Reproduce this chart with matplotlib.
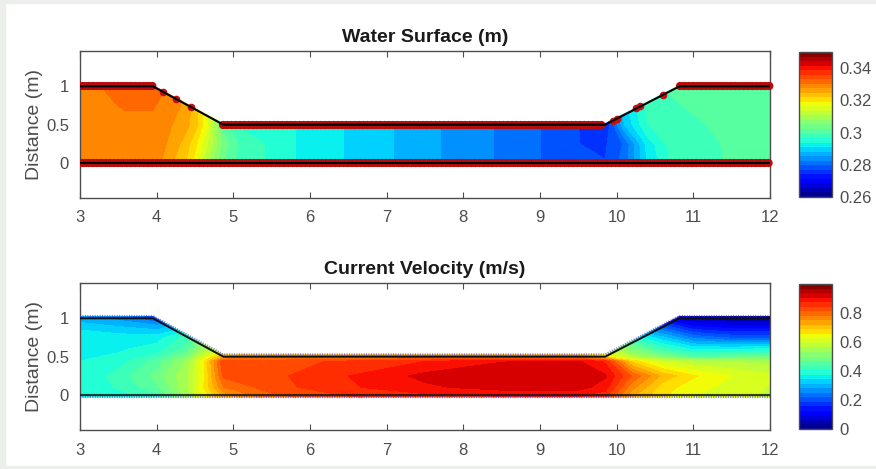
import numpy as np
import matplotlib
matplotlib.use('Agg')
import matplotlib.pyplot as plt
from matplotlib.cm import ScalarMappable
from matplotlib.colors import ListedColormap, Normalize
from matplotlib.patches import Polygon, Rectangle

plt.rcParams['font.family'] = ['Liberation Sans', 'DejaVu Sans']

# channel outline
channel_x = [3, 3.95, 4.87, 9.85, 10.82, 12]
channel_y = [1, 1, 0.5, 0.5, 1, 1]

# water surface (m), rows go with ws_y, columns with ws_x
ws_x = [3, 3.3, 3.6, 3.95, 4.05, 4.2, 4.37, 4.5, 4.65, 4.87, 5.1, 5.4, 5.8, 6.45, 7.1, 7.7, 8.4, 9, 9.5, 9.85, 10.1, 10.4, 10.7, 11.4, 12.04]
ws_y = [-0.02, 0.25, 0.5, 0.75, 1.02]
ws_0 = [.329, .329, .329, .329, .3275, .3247, .3219, .3176, .310, .302, .298, .2966, .2938, .2909, .2881, .2853, .2825, .2797, .2769, .277, .281, .291, .2966, .2994, .3005]
ws_1 = [.329, .329, .329, .329, .3285, .3265, .3235, .320, .314, .304, .2985, .2966, .2938, .2909, .2881, .2853, .2825, .2797, .2769, .2765, .280, .292, .2975, .2995, .3005]
ws_2 = [.329, .329, .329, .329, .329, .3275, .326, .323, .317, .301, .296, .2945, .2938, .2909, .2881, .2853, .2825, .2797, .2769, .2735, .288, .2965, .2985, .2998, .3005]
ws_3 = [.329, .3295, .3308, .3308, .3295, .3285, .327, .323, .317, .301, .296, .2945, .2938, .2909, .2881, .2853, .2825, .2797, .274, .2775, .290, .2975, .2992, .300, .3005]
ws_4 = [.329, .3305, .332, .332, .3315, .3295, .327, .323, .317, .301, .296, .2945, .2938, .2909, .2881, .2853, .2825, .2797, .274, .280, .291, .298, .2995, .300, .3005]

# the few red points on the slopes of the upper plot
slope_x = [4.08, 4.25, 4.45, 9.95, 10.0, 10.25, 10.3, 10.6]
slope_y = [0.93, 0.84, 0.73, 0.55, 0.58, 0.72, 0.75, 0.89]

# current velocity (m/s)
vel_x = [3, 3.5, 4, 4.4, 4.6, 4.87, 5.5, 6.5, 7.5, 8.5, 9.5, 9.85, 10.2, 10.6, 11, 11.5, 12.04]
vel_y = [-0.03, 0.1, 0.25, 0.44, 0.5, 0.6, 0.75, 0.9, 1.03]
vel_0 = [.385, .39, .42, .54, .63, .72, .80, .84, .86, .87, .87, .85, .72, .66, .62, .60, .59]
vel_1 = [.38, .41, .46, .56, .65, .78, .83, .87, .90, .92, .92, .89, .76, .67, .64, .61, .59]
vel_2 = [.375, .42, .48, .56, .64, .82, .835, .875, .915, .925, .925, .91, .81, .71, .66, .625, .60]
vel_3 = [.375, .39, .45, .54, .64, .84, .83, .85, .875, .905, .91, .87, .68, .60, .57, .56, .55]
vel_4 = [.37, .38, .42, .50, .60, .72, .76, .76, .76, .76, .76, .66, .56, .50, .45, .46, .48]
vel_5 = [.37, .37, .39, .45, .54, .60, .70, .70, .70, .70, .70, .60, .50, .42, .37, .37, .38]
vel_6 = [.37, .36, .36, .42, .50, .60, .70, .70, .70, .70, .70, .50, .40, .32, .24, .21, .21]
vel_7 = [.33, .31, .29, .33, .40, .50, .60, .60, .60, .60, .60, .40, .25, .20, .12, .10, .10]
vel_8 = [.28, .26, .18, .20, .30, .40, .50, .50, .50, .50, .50, .30, .10, .08, .03, .02, .02]

ws_ticks = [0.26, 0.28, 0.3, 0.32, 0.34]
ws_labels = ['0.26', '0.28', '0.3', '0.32', '0.34']
vel_ticks = [0, 0.2, 0.4, 0.6, 0.8]
vel_labels = ['0', '0.2', '0.4', '0.6', '0.8']

W, H = 876, 469
GREY = '#4d4d4d'
# 32 jet bands, each taken at its middle
BANDS = ListedColormap(matplotlib.colormaps['jet']((np.arange(32) + 0.5) / 32))


def px_axes(fig, left, top, right, bottom):
    return fig.add_axes([left / W, 1 - bottom / H, (right - left) / W, (bottom - top) / H])


def draw_field(ax, cax, x, y, z, vmin, vmax, title, ticks, labels, pad):
    norm = Normalize(vmin, vmax)
    cs = ax.contourf(x, y, z, levels=np.linspace(vmin, vmax, 33), cmap=BANDS, norm=norm, extend='both')
    # only keep the field inside the channel
    outline = list(zip(channel_x, np.array(channel_y) + pad))
    outline = outline + [(12.04, 1 + pad), (12.04, -pad), (3, -pad)]
    clip = Polygon(outline, closed=True, transform=ax.transData)
    cs.set_clip_path(clip)

    ax.set_xlim(3, 12)
    ax.set_ylim(-0.455, 1.46)
    ax.set_xticks(range(3, 13))
    ax.set_yticks([0, 0.5, 1])
    ax.set_yticklabels(['0', '0.5', '1'])
    ax.tick_params(axis='x', direction='in', top=True, length=4, width=0.8, color=GREY,
                   labelcolor=GREY, labelsize=12, pad=9)
    ax.tick_params(axis='y', length=0, labelcolor=GREY, labelsize=12, pad=8)
    ax.set_ylabel('Distance (m)', fontsize=14, color=GREY, labelpad=2)
    ax.set_title(title, fontsize=14, fontweight='bold', color='#1a1a1a', pad=6.5)
    for s in ax.spines.values():
        s.set_color(GREY)
        s.set_linewidth(1.0)

    cb = plt.colorbar(ScalarMappable(norm=norm, cmap=BANDS), cax=cax)
    cb.set_ticks(ticks)
    cb.set_ticklabels(labels)
    cb.ax.tick_params(length=0, labelcolor=GREY, labelsize=12, pad=5)
    cb.outline.set_edgecolor(GREY)
    cb.outline.set_linewidth(1.0)


fig = plt.figure(figsize=(W / 100, H / 100), dpi=100, facecolor='white')

# pale strips from the screenshot edge
fig.patches.append(Rectangle((0, 0), 5 / W, 1, transform=fig.transFigure, color='#ebeeeb', zorder=-5))
fig.patches.append(Rectangle((0, 1 - 3 / H), 1, 3 / H, transform=fig.transFigure, color='#ebeeeb', zorder=-5))
fig.patches.append(Rectangle((0, 0), 1, 3 / H, transform=fig.transFigure, color='#ebeeeb', zorder=-5))

ax1 = px_axes(fig, 80, 51, 770, 198)
cax1 = px_axes(fig, 799, 52, 832, 197)
ax2 = px_axes(fig, 80, 283, 770, 430)
cax2 = px_axes(fig, 799, 284, 832, 429)

draw_field(ax1, cax1, ws_x, ws_y, [ws_0, ws_1, ws_2, ws_3, ws_4], 0.26, 0.35,
           'Water Surface (m)', ws_ticks, ws_labels, 0.02)
draw_field(ax2, cax2, vel_x, vel_y,
           [vel_0, vel_1, vel_2, vel_3, vel_4, vel_5, vel_6, vel_7, vel_8], 0, 1.0,
           'Current Velocity (m/s)', vel_ticks, vel_labels, 0.03)

# upper plot: red points along the flat banks, drawn as a dotted thick line
# cut at the left spine but let it run past the right one
keep = Rectangle((3, -0.4), 9.1, 1.8, transform=ax1.transData)
for sx, sy in [(channel_x[:2], channel_y[:2]), (channel_x[2:4], channel_y[2:4]),
               (channel_x[4:], channel_y[4:]), ([3, 12], [0, 0])]:
    line, = ax1.plot(sx, sy, color='#b80c0c', lw=6, ls=(0, (0.01, 0.5)), dash_capstyle='round',
                     clip_on=False, zorder=3)
    line.set_clip_path(keep)
    line.set_clip_on(True)
ax1.plot(slope_x, slope_y, 'o', color='#c41010', ms=5.5, mew=0, zorder=3)
ax1.plot(channel_x, channel_y, color='black', lw=1.5, zorder=4)
ax1.plot([3, 12], [0, 0], color='black', lw=1.5, zorder=4)

# lower plot: small blue points just outside the banks
ax2.plot(channel_x, np.array(channel_y) + 0.03, color='#3a3ac8', lw=1.6, ls=(0, (0.5, 0.6)),
         alpha=0.6, zorder=3)
ax2.plot([3, 12], [-0.03, -0.03], color='#3a3ac8', lw=1.6, ls=(0, (0.5, 0.6)), alpha=0.6, zorder=3)
ax2.plot(channel_x, channel_y, color='#101010', lw=1.4, zorder=4)
ax2.plot([3, 12], [0.0, 0.0], color='#1a1a1a', lw=1.5, alpha=0.85, zorder=4)

fig.savefig('out.png', dpi=100)
